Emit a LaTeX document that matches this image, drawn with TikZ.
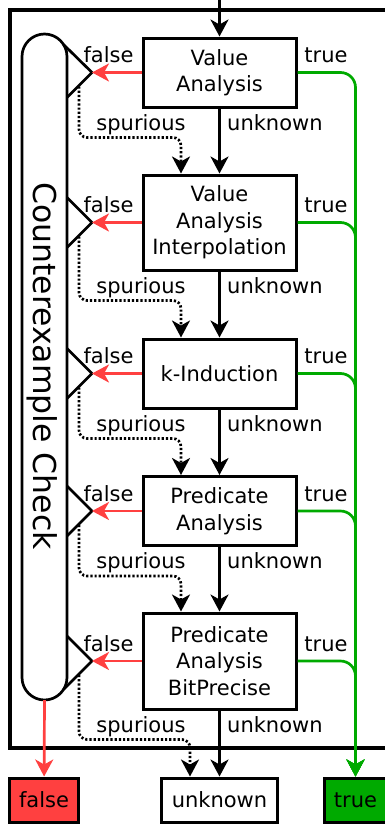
\documentclass[tikz,border=0pt]{standalone}
\definecolor{fred}{HTML}{FF4040}
\definecolor{tgreen}{HTML}{00AA00}
\usepackage{fontspec}
\setmainfont{DejaVu Sans}
\usetikzlibrary{arrows.meta}
\usetikzlibrary{calc}

\begin{document}
\begin{tikzpicture}[x=1pt,y=-1pt,
	font=\fontsize{21}{26.5}\selectfont,
	algo/.style={draw,line width=3pt,minimum width=153pt,minimum height=69pt,align=center,inner sep=0pt},
	result/.style={draw,line width=3pt,minimum height=44pt,inner sep=0pt},
	flow/.style={line width=2.7pt,-{Stealth[length=17pt,width=18pt,inset=5pt]}},
	spur/.style={flow,dash pattern=on 2.2pt off 2pt,rounded corners=8pt},
	lbl/.style={inner sep=0pt,anchor=base}]
	\useasboundingbox (0,0) rectangle (385,825);
	% outer frame
	\draw[line width=3.3pt] (10,10) rectangle (390,748);
	% analyses
	\node[algo] (va) at (219.5,72.5) {Value\\Analysis};
	\node[algo,minimum height=95pt] (vai) at (219.5,222.5) {Value\\Analysis\\Interpolation};
	\node[algo] (ki) at (219.5,373.5) {k-Induction};
	\node[algo] (pa) at (219.5,511) {Predicate\\Analysis};
	\node[algo,minimum height=96pt] (pab) at (219.5,661) {Predicate\\Analysis\\BitPrecise};
	% results
	\node[result,fill=fred,minimum width=69pt] (rfalse) at (44,800) {false};
	\node[result,minimum width=116pt] (runk) at (219.5,800) {unknown};
	\node[result,fill=tgreen,minimum width=62pt] (rtrue) at (355.5,800) {true};
	\coordinate (start) at (219.5,0);
	\draw[flow] (start) -- (va);
	% counterexample check
	\draw[line width=2.7pt,rounded corners=22.5pt] (22,34) rectangle (67,700);
	\node[rotate=-90,anchor=base,inner sep=0pt,font=\fontsize{31.5}{36}\selectfont] (cex) at (34,366) {Counterexample Check};
	\coordinate (cexs) at (44.5,700);
	\draw[flow,fred] (cexs) -- (rfalse);
	% checks, one per analysis
	\draw[line width=2.7pt,line join=round] (63.6,44.6) -- (92,72.5) -- (67,97.5);
	\draw[line width=2.7pt,line join=round] (67,197.5) -- (92,222.5) -- (67,247.5);
	\draw[line width=2.7pt,line join=round] (67,348.5) -- (92,373.5) -- (67,398.5);
	\draw[line width=2.7pt,line join=round] (67,486) -- (92,511) -- (67,536);
	\draw[line width=2.7pt,line join=round] (67,636) -- (92,661) -- (63.6,689.4);
	\foreach \a [count=\i] in {va, vai, ki, pa, pab}{
		\coordinate (ap\i) at (92,0 |- \a.west);
		\coordinate (sp\i) at ($(ap\i)+(-13,14)$);
		\draw[flow,fred] (\a.west) -- (ap\i);
		\draw[flow,tgreen,rounded corners=15pt] (\a.east) -| (rtrue.north);
		\node[lbl] at ($(ap\i)+(16.5,-10)$) {false};
		\node[lbl] at ($(\a.east)+(28.5,-10)$) {true};
		\node[lbl] at ($(\a.south)+(-78.5,21.5)$) {spurious};
		\node[lbl,anchor=base west] at ($(\a.south)+(7.5,21.5)$) {unknown};
	}
	% unknown
	\draw[flow] (va) -- (vai);
	\draw[flow] (vai) -- (ki);
	\draw[flow] (ki) -- (pa);
	\draw[flow] (pa) -- (pab);
	\draw[flow] (pab) -- (runk);
	% spurious
	\draw[spur] (sp1) |- ($(va.south)+(-38.5,29)$) -- ([xshift=-38.5pt]vai.north);
	\draw[spur] (sp2) |- ($(vai.south)+(-38.5,29)$) -- ([xshift=-38.5pt]ki.north);
	\draw[spur] (sp3) |- ($(ki.south)+(-38.5,29)$) -- ([xshift=-38.5pt]pa.north);
	\draw[spur] (sp4) |- ($(pa.south)+(-38.5,29)$) -- ([xshift=-38.5pt]pab.north);
	\draw[spur] (sp5) |- ($(pab.south)+(-29.5,29)$) -- ([xshift=-29.5pt]runk.north);
\end{tikzpicture}
\end{document}
